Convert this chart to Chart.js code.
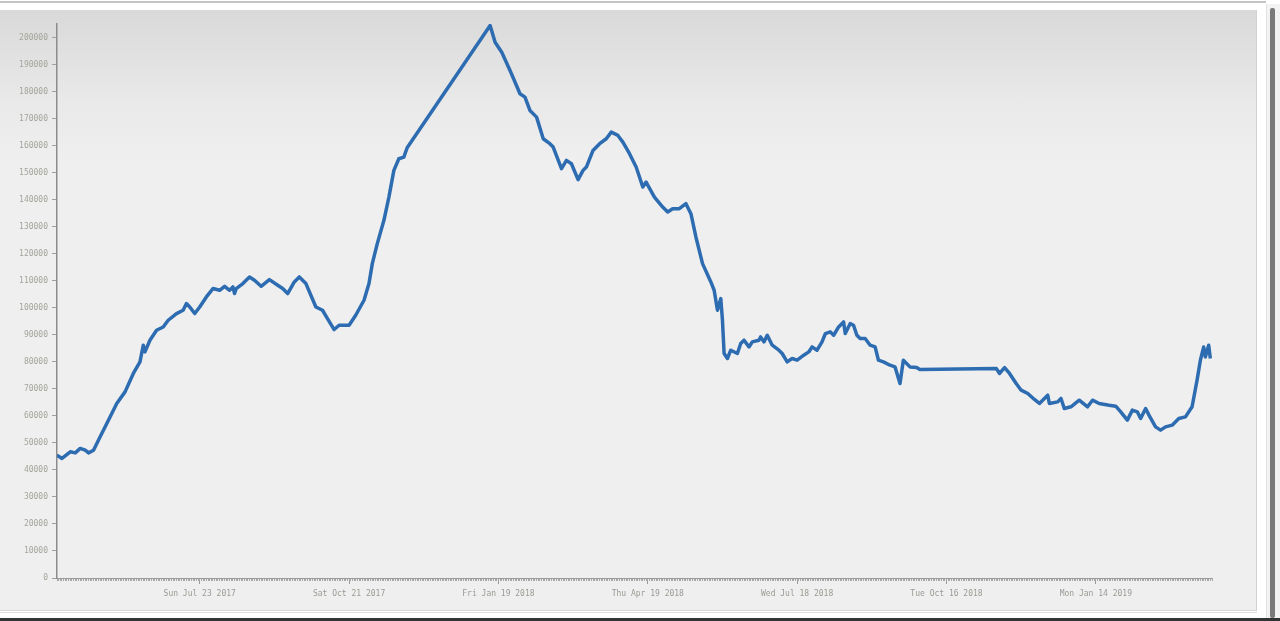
<!DOCTYPE html>
<html>
<head>
<meta charset="utf-8">
<script src="https://cdn.jsdelivr.net/npm/chart.js@4/dist/chart.umd.min.js"></script>
<style>
  html, body { margin: 0; padding: 0; background: #fff; width: 1280px; height: 621px; overflow: hidden; }
  #topline { position: absolute; left: 0; top: 1px; width: 1266px; height: 2px; background: #c4c4c4; }
  #panel {
    position: absolute; left: 0; top: 10px; width: 1256px; height: 599px;
    border-right: 1px solid #d2d2d2; border-bottom: 1px solid #d6d6d6; border-top: 1px solid #dadada;
    background: linear-gradient(to bottom, #d9d9d9 0px, #e9e9e9 90px, #efefef 150px, #efefef 100%);
  }
  #bottomline { position: absolute; left: 0; top: 612px; width: 1257px; height: 1px; background: #dcdcdc; }
  #bottombar { position: absolute; left: 0; top: 618px; width: 1280px; height: 3px; background: #333; }
  #track { position: absolute; left: 1266px; top: 4px; width: 14px; height: 614px; background: #f3f3f3; border-left: 1px solid #e2e2e2; }
  #thumb { position: absolute; left: 1270px; top: 8px; width: 5px; height: 610px; background: #7a7a7a; border-radius: 2px; }
  canvas { position: absolute; left: 0; top: 10px; }
</style>
</head>
<body>
<div id="topline"></div>
<div id="panel"></div>
<div id="bottomline"></div>
<div id="track"></div>
<div id="thumb"></div>
<div id="bottombar"></div>
<canvas id="graphique" width="1257" height="600"></canvas>
<script>
// dates et valeurs
const dates = [
  '2017-04-28', '2017-05-01', '2017-05-06', '2017-05-09', '2017-05-12', '2017-05-15', '2017-05-17', '2017-05-20',
  '2017-05-24', '2017-05-29', '2017-06-03', '2017-06-08', '2017-06-13', '2017-06-17', '2017-06-19', '2017-06-20',
  '2017-06-23', '2017-06-27', '2017-07-01', '2017-07-04', '2017-07-09', '2017-07-13', '2017-07-15', '2017-07-17',
  '2017-07-20', '2017-07-23', '2017-07-27', '2017-07-31', '2017-08-04', '2017-08-07', '2017-08-10', '2017-08-12',
  '2017-08-13', '2017-08-14', '2017-08-18', '2017-08-22', '2017-08-25', '2017-08-29', '2017-09-03', '2017-09-08',
  '2017-09-11', '2017-09-14', '2017-09-18', '2017-09-21', '2017-09-25', '2017-10-01', '2017-10-05', '2017-10-08',
  '2017-10-12', '2017-10-15', '2017-10-21', '2017-10-25', '2017-10-30', '2017-11-02', '2017-11-04', '2017-11-07',
  '2017-11-11', '2017-11-14', '2017-11-17', '2017-11-20', '2017-11-23', '2017-11-25', '2018-01-14', '2018-01-17',
  '2018-01-21', '2018-01-26', '2018-02-01', '2018-02-04', '2018-02-07', '2018-02-11', '2018-02-15', '2018-02-19',
  '2018-02-21', '2018-02-26', '2018-03-01', '2018-03-04', '2018-03-08', '2018-03-11', '2018-03-13', '2018-03-17',
  '2018-03-21', '2018-03-25', '2018-03-28', '2018-04-01', '2018-04-04', '2018-04-08', '2018-04-12', '2018-04-16',
  '2018-04-18', '2018-04-23', '2018-04-28', '2018-05-01', '2018-05-04', '2018-05-08', '2018-05-12', '2018-05-15',
  '2018-05-18', '2018-05-22', '2018-05-27', '2018-05-29', '2018-05-31', '2018-06-02', '2018-06-03', '2018-06-04',
  '2018-06-06', '2018-06-08', '2018-06-12', '2018-06-14', '2018-06-16', '2018-06-19', '2018-06-21', '2018-06-25',
  '2018-06-26', '2018-06-28', '2018-06-30', '2018-07-03', '2018-07-07', '2018-07-09', '2018-07-12', '2018-07-15',
  '2018-07-18', '2018-07-22', '2018-07-25', '2018-07-27', '2018-07-30', '2018-08-02', '2018-08-04', '2018-08-07',
  '2018-08-09', '2018-08-12', '2018-08-15', '2018-08-16', '2018-08-19', '2018-08-21', '2018-08-23', '2018-08-25',
  '2018-08-28', '2018-08-31', '2018-09-03', '2018-09-05', '2018-09-08', '2018-09-12', '2018-09-15', '2018-09-18',
  '2018-09-20', '2018-09-24', '2018-09-28', '2018-09-30', '2018-11-15', '2018-11-17', '2018-11-20', '2018-11-23',
  '2018-11-27', '2018-11-30', '2018-12-04', '2018-12-08', '2018-12-11', '2018-12-16', '2018-12-17', '2018-12-22',
  '2018-12-24', '2018-12-26', '2018-12-30', '2019-01-04', '2019-01-09', '2019-01-12', '2019-01-16', '2019-01-22',
  '2019-01-26', '2019-01-29', '2019-02-02', '2019-02-05', '2019-02-08', '2019-02-10', '2019-02-13', '2019-02-15',
  '2019-02-19', '2019-02-22', '2019-02-25', '2019-03-01', '2019-03-05', '2019-03-09', '2019-03-13', '2019-03-16',
  '2019-03-18', '2019-03-20', '2019-03-21', '2019-03-23', '2019-03-24'
];
const valeurs = [
  45470, 44250, 46700, 46300, 47950, 47300, 46300, 47300,
  52240, 58400, 64580, 68870, 75680, 79970, 86140, 83660,
  87990, 91680, 92900, 95380, 97850, 99080, 101550, 100300,
  97850, 100300, 104000, 107100, 106470, 107950, 106470, 107700,
  105250, 107100, 108950, 111390, 110170, 107950, 110420, 108320,
  107100, 105250, 109540, 111390, 108950, 100300, 99080, 96000,
  91940, 93530, 93530, 97230, 102770, 108950, 116340, 123730,
  132350, 140960, 150830, 155150, 155750, 159220, 204440, 198260,
  194570, 187800, 179180, 177950, 173010, 170540, 162540, 160700,
  159450, 151450, 154530, 153300, 147390, 150830, 152070, 158220,
  160700, 162540, 165000, 163770, 161300, 157000, 152070, 144680,
  146500, 140960, 137260, 135420, 136660, 136660, 138520, 134820,
  126190, 116340, 109540, 106470, 99080, 103400, 95380, 83070,
  81220, 84290, 83070, 86750, 87990, 85510, 87370, 87990,
  89200, 87370, 89830, 86140, 84290, 83070, 79970, 81220,
  80590, 82440, 83660, 85510, 84290, 87370, 90460, 91070,
  89830, 92900, 94760, 90460, 94150, 93530, 89830, 88600,
  88600, 86140, 85510, 80590, 79970, 78740, 78120, 71970,
  80590, 78120, 77900, 77150, 77520, 75680, 77890, 75680,
  71970, 69500, 68280, 66060, 64580, 67650, 64580, 65180,
  66430, 62730, 63350, 65800, 63350, 65800, 64580, 63950,
  63590, 61480, 58410, 62110, 61480, 59040, 62730, 60260,
  55930, 54710, 55930, 56560, 59040, 59630, 63350, 73200,
  80590, 85510, 81810, 86140, 81220
];
const debutAxe = '2017-04-28';
const finAxe = '2019-03-25';
const ticksY = [0, 10000, 20000, 30000, 40000, 50000, 60000, 70000, 80000, 90000, 100000,
  110000, 120000, 130000, 140000, 150000, 160000, 170000, 180000, 190000, 200000];
const maxY = 205000;
const datesMajeures = ['2017-07-23', '2017-10-21', '2018-01-19', '2018-04-19', '2018-07-18', '2018-10-16', '2019-01-14'];

const JOUR = 86400000;
const enMs = (s) => { const p = s.split('-').map(Number); return Date.UTC(p[0], p[1] - 1, p[2]); };
const JOURS = ['Sun', 'Mon', 'Tue', 'Wed', 'Thu', 'Fri', 'Sat'];
const MOIS = ['Jan', 'Feb', 'Mar', 'Apr', 'May', 'Jun', 'Jul', 'Aug', 'Sep', 'Oct', 'Nov', 'Dec'];
const formatDate = (ms) => {
  const d = new Date(ms);
  return JOURS[d.getUTCDay()] + ' ' + MOIS[d.getUTCMonth()] + ' ' + String(d.getUTCDate()).padStart(2, '0') + ' ' + d.getUTCFullYear();
};

const xMin = enMs(debutAxe);
const xMax = enMs(finAxe);
const points = dates.map((d, i) => ({ x: enMs(d), y: valeurs[i] }));

// un petit tick par jour
const ticksMineurs = [];
for (let t = xMin; t <= xMax; t += JOUR) ticksMineurs.push({ value: t });

const police = { family: 'DejaVu Sans Mono', size: 8 };

const config = {
  type: 'line',
  data: {
    datasets: [{
      data: points,
      borderColor: '#2d6cb1',
      borderWidth: 3.5,
      pointRadius: 0,
      tension: 0,
      fill: false,
      borderJoinStyle: 'round',
    }],
  },
  options: {
    responsive: false,
    animation: false,
    devicePixelRatio: 1,
    layout: { padding: { left: 0, top: 14, right: 45, bottom: 0 } },
    plugins: { legend: { display: false }, tooltip: { enabled: false } },
    scales: {
      x: {
        type: 'linear', position: 'bottom', weight: 0,
        min: xMin, max: xMax,
        afterBuildTicks: (scale) => { scale.ticks = ticksMineurs.slice(); },
        ticks: { display: false, autoSkip: false },
        grid: { drawOnChartArea: false, tickLength: 3, tickColor: '#a8a8a8', tickWidth: 1 },
        border: { display: true, color: '#9a9a9a', width: 1 },
      },
      xMajeur: {
        type: 'linear', position: 'bottom', weight: 1,
        min: xMin, max: xMax,
        afterBuildTicks: (scale) => { scale.ticks = datesMajeures.map((d) => ({ value: enMs(d) })); },
        afterFit: (scale) => { scale.height = 29; },
        ticks: {
          autoSkip: false, maxRotation: 0, padding: 5,
          color: '#9a9a94', font: police,
          callback: (v) => formatDate(v),
        },
        grid: { drawOnChartArea: false, tickLength: 3, tickColor: '#999', tickWidth: 1 },
        border: { display: false },
      },
      y: {
        type: 'linear', position: 'left',
        min: 0, max: maxY,
        afterBuildTicks: (scale) => { scale.ticks = ticksY.map((v) => ({ value: v })); },
        afterFit: (scale) => { scale.width = 57; },
        ticks: { color: '#a4a49c', font: police, padding: 4, callback: (v) => String(v) },
        grid: { drawOnChartArea: false, tickLength: 5, tickColor: '#a0a0a0', tickWidth: 1 },
        border: { display: true, color: '#8c8c8c', width: 1.5 },
      },
    },
  },
};

new Chart(document.getElementById('graphique'), config);
</script>
</body>
</html>
